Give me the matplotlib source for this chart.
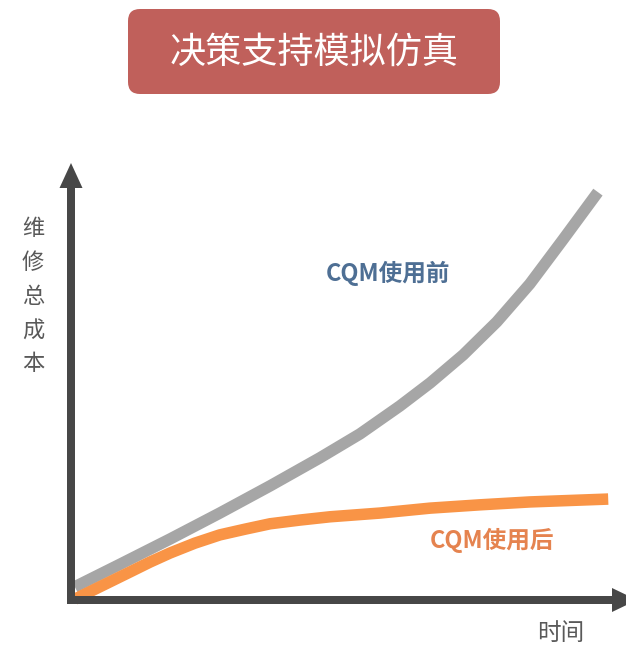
import matplotlib
matplotlib.use('Agg')
import matplotlib.pyplot as plt
from matplotlib.patches import FancyBboxPatch, Polygon
from matplotlib.transforms import ScaledTranslation

plt.rcParams['font.family'] = ['Noto Sans CJK SC', 'DejaVu Sans']

# ---- text ----
title = '决策支持模拟仿真'
y_label_chars = ['维', '修', '总', '成', '本']
x_label = '时间'
series_names = ['CQM使用前', 'CQM使用后']

# ---- data (time 0..10, cost 0..100) ----
before_x = [0.07, 0.91, 1.83, 2.75, 3.68, 4.60, 5.34, 6.08, 6.64, 7.25, 7.87, 8.48, 9.09, 9.74]
before_y = [3.2, 8.7, 14.8, 21.1, 27.7, 34.5, 40.3, 47.1, 52.7, 59.5, 67.5, 76.7, 87.4, 99.0]
after_x = [0.07, 0.30, 1.09, 1.46, 1.83, 2.29, 2.75, 3.22, 3.68, 4.23, 4.79, 5.71, 6.64, 7.56, 8.48, 9.93]
after_y = [0.2, 1.7, 6.8, 9.2, 11.4, 13.8, 15.8, 17.2, 18.5, 19.4, 20.2, 21.1, 22.3, 23.1, 23.8, 24.5]

W, H = 626, 647
fig = plt.figure(figsize=(W / 100, H / 100), dpi=100)
fig.patch.set_facecolor('white')

ax = fig.add_axes([71 / W, (H - 600) / H, 541 / W, 412 / H])
ax.set_xlim(0, 10)
ax.set_ylim(0, 100)
ax.axis('off')

gray = '#a6a6a6'
orange = '#f99446'
axis_color = '#474747'

ax.plot(before_x, before_y, color=gray, lw=8.3, solid_capstyle='butt',
        solid_joinstyle='round', clip_on=False, zorder=2)
ax.plot(after_x, after_y, color=orange, lw=8.3, solid_capstyle='butt',
        solid_joinstyle='round', clip_on=False, zorder=3)

# axes arrows
ax.plot([0, 0], [0, 1], transform=ax.transAxes, color=axis_color, lw=8 * 0.72,
        solid_capstyle='projecting', clip_on=False, zorder=5)
ax.plot([0, 1], [0, 0], transform=ax.transAxes, color=axis_color, lw=8 * 0.72,
        solid_capstyle='projecting', clip_on=False, zorder=5)
ty = fig.dpi_scale_trans + ScaledTranslation(0, 1, ax.transAxes)
ax.add_artist(Polygon([(-0.115, 0), (0.115, 0), (0, 0.25)], closed=True,
                      transform=ty, fc=axis_color, ec='none', clip_on=False, zorder=6))
tx = fig.dpi_scale_trans + ScaledTranslation(1, 0, ax.transAxes)
ax.add_artist(Polygon([(0, -0.12), (0, 0.12), (0.25, 0)], closed=True,
                      transform=tx, fc=axis_color, ec='none', clip_on=False, zorder=6))

# title box
box = FancyBboxPatch((1.28, (H - 94) / 100), 3.72, 0.85,
                     boxstyle='round,pad=0,rounding_size=0.12',
                     transform=fig.dpi_scale_trans, fc='#c0605b', ec='none')
fig.add_artist(box)
fig.text(314 / W, 1 - 53 / H, title, color='white', fontsize=26,
         ha='center', va='center')

# y label (vertical stacked)
for ch, yc in zip(y_label_chars, [228, 263, 297, 331, 364]):
    fig.text(33 / W, 1 - yc / H, ch, color='#595959', fontsize=16,
             ha='center', va='center')

fig.text(561 / W, 1 - 634 / H, x_label, color='#595959', fontsize=17,
         ha='center', va='center')

fig.text(388 / W, 1 - 273 / H, series_names[0], color='#4e6f94', fontsize=17,
         fontweight='bold', ha='center', va='center')
fig.text(492 / W, 1 - 540 / H, series_names[1], color='#e5834f', fontsize=17,
         fontweight='bold', ha='center', va='center')

fig.savefig('out.png', dpi=100, facecolor='white')
